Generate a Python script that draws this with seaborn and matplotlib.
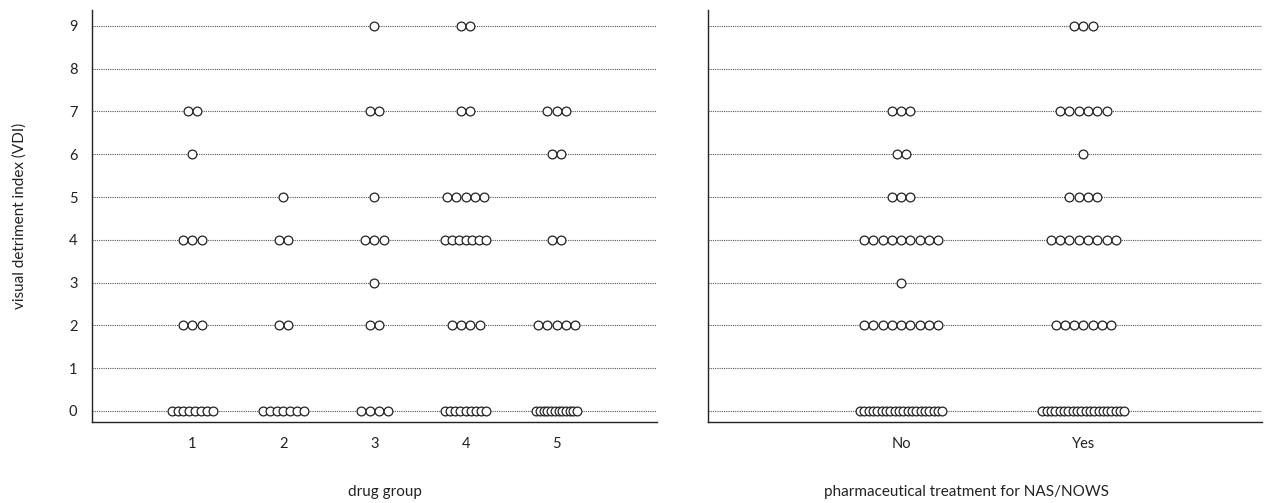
import numpy as np
import pandas as pd
import matplotlib
matplotlib.use("Agg")
import matplotlib.pyplot as plt
import seaborn as sns

# VDI levels on the y axis and number of infants at each level per group
vdi_levels = [0, 1, 2, 3, 4, 5, 6, 7, 8, 9]

drug_groups = ["1", "2", "3", "4", "5"]
counts_group1 = [8, 0, 3, 0, 3, 0, 1, 2, 0, 0]
counts_group2 = [7, 0, 2, 0, 2, 1, 0, 0, 0, 0]
counts_group3 = [4, 0, 2, 1, 3, 1, 0, 2, 0, 1]
counts_group4 = [9, 0, 4, 0, 7, 5, 0, 2, 0, 2]
counts_group5 = [12, 0, 5, 0, 2, 0, 2, 3, 0, 0]

treatment_groups = ["No", "Yes"]
counts_no = [20, 0, 9, 1, 9, 3, 2, 3, 0, 0]
counts_yes = [20, 0, 7, 0, 8, 4, 1, 6, 0, 3]


def expand(groups, counts_list):
    rows = []
    for pos, (g, counts) in enumerate(zip(groups, counts_list)):
        for lvl, n in zip(vdi_levels, counts):
            for i in range(n):
                rows.append({"group": g, "pos": pos, "vdi": lvl, "i": i, "n": n})
    return pd.DataFrame(rows)


def dot_offsets(df, unit_px, spacing_px=9.3, cap=0.45):
    # spread tied points horizontally, squeeze rows that are too wide
    step = spacing_px / unit_px
    out = []
    for _, r in df.iterrows():
        n = r["n"]
        s = step if n <= 1 else min(step, cap / (n - 1))
        out.append(r["pos"] + (r["i"] - (n - 1) / 2) * s)
    return out


def style_axis(ax, labels, xlim, xlabel, label_x):
    ax.set_xlim(*xlim)
    ax.set_ylim(-0.26, 9.37)
    ax.set_xticks(range(len(labels)))
    ax.set_xticklabels(labels)
    ax.set_yticks(vdi_levels)
    ax.set_xlabel(xlabel, fontsize=11, color="#222222")
    ax.xaxis.set_label_coords(label_x, -0.152)
    for y in vdi_levels:
        ax.axhline(y, color="#555555", lw=0.8, ls=(0, (1, 1)), zorder=1)
    sns.despine(ax=ax)
    for side in ["left", "bottom"]:
        ax.spines[side].set_color("#222222")
        ax.spines[side].set_linewidth(1.0)
    ax.tick_params(axis="both", length=7, width=0.9, color="#555555",
                   labelsize=10.5, labelcolor="#222222")
    ax.grid(False)


sns.set_theme(style="white")
plt.rcParams["font.family"] = ["Lato", "DejaVu Sans"]

fig = plt.figure(figsize=(12.78, 5.03), dpi=100)
ax1 = fig.add_axes([0.072, 0.161, 0.442, 0.819])
ax2 = fig.add_axes([0.554, 0.161, 0.4335, 0.819])

left = expand(drug_groups, [counts_group1, counts_group2, counts_group3,
                            counts_group4, counts_group5])
right = expand(treatment_groups, [counts_no, counts_yes])

xlim1 = (-1.1, 5.1)
xlim2 = (-1.06, 1.98)
unit1 = 0.442 * 1278 / (xlim1[1] - xlim1[0])
unit2 = 0.4335 * 1278 / (xlim2[1] - xlim2[0])
left["x"] = dot_offsets(left, unit1)
right["x"] = dot_offsets(right, unit2)

marker_kw = dict(s=40, color="white", edgecolor="#222222", linewidth=0.9,
                 zorder=3, legend=False)
sns.scatterplot(data=left, x="x", y="vdi", ax=ax1, **marker_kw)
sns.scatterplot(data=right, x="x", y="vdi", ax=ax2, **marker_kw)

style_axis(ax1, drug_groups, xlim1, "drug group", 0.519)
style_axis(ax2, treatment_groups, xlim2,
           "pharmaceutical treatment for NAS/NOWS", 0.466)
ax1.set_ylabel("visual detriment index (VDI)", fontsize=11, labelpad=30,
               color="#222222")
ax2.set_ylabel("")
ax2.set_yticklabels([])

fig.savefig("out.png", dpi=100)
